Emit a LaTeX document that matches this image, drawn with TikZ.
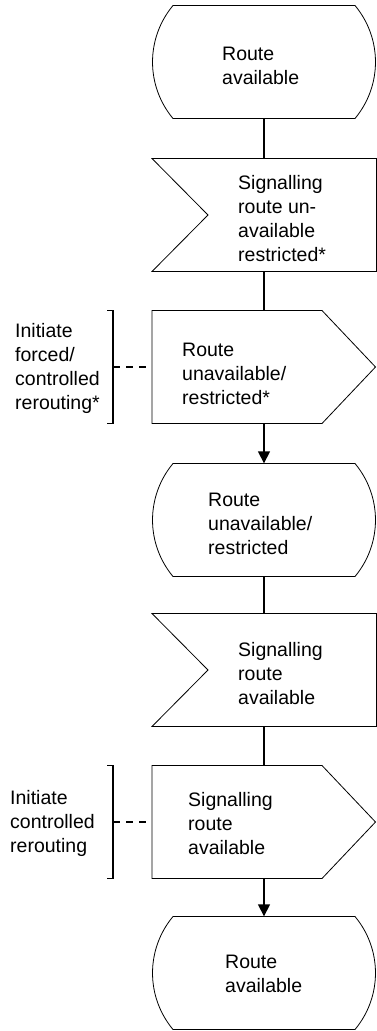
\documentclass[tikz,border=0pt]{standalone}
\usepackage{fontspec}
\setmainfont{Liberation Sans}
\usetikzlibrary{arrows.meta}
\tikzset{
  shapebox/.style={minimum width=224pt, minimum height=113pt, inner sep=0pt, draw=none},
  outline/.style={draw=black, line width=0.8pt, line join=miter},
  conn/.style={draw=black, line width=1.6pt},
  arr/.style={conn, -{Triangle[width=12pt,length=12pt]}},
  lbl/.style={anchor=north west, inner sep=0pt, align=left, font=\fontsize{19.5}{24}\selectfont},
  brk/.style={draw=black, line width=1.5pt},
  dsh/.style={draw=black, line width=1.6pt, dash pattern=on 7pt off 6pt},
}
\newcommand\drawstateshape[1]{%
  \draw[outline, shift={(#1.center)}] (-91,-56.5) -- (91,-56.5)
    .. controls (118.3,-23.7) and (118.3,23.7) .. (91,56.5) -- (-91,56.5)
    .. controls (-118.3,23.7) and (-118.3,-23.7) .. cycle;}
\newcommand\drawinshape[1]{%
  \draw[outline, shift={(#1.center)}] (-112,-56.5) -- (112.6,-56.5) -- (112.6,56.5)
    -- (-112,56.5) -- (-56,0) -- cycle;}
\newcommand\drawoutshape[1]{%
  \draw[outline, shift={(#1.center)}] (-112,-56.5) -- (58,-56.5) -- (111.5,0)
    -- (58,56.5) -- (-112,56.5) -- cycle;}
\begin{document}
\begin{tikzpicture}[x=1pt,y=-1pt]
\useasboundingbox (0,0) rectangle (376,1031);
% shape anchors
\node[shapebox] (s1) at (264,62) {};
\node[shapebox] (g1) at (264,215) {};
\node[shapebox] (k1) at (264,367) {};
\node[shapebox] (s2) at (264,520) {};
\node[shapebox] (g2) at (264,670) {};
\node[shapebox] (k2) at (264,822) {};
\node[shapebox] (s3) at (264,973) {};
% outlines
\drawstateshape{s1}
\drawinshape{g1}
\drawoutshape{k1}
\drawstateshape{s2}
\drawinshape{g2}
\drawoutshape{k2}
\drawstateshape{s3}
% texts
\node[lbl] (t1) at (222,47) {Route\\available};
\node[lbl] (t2) at (238,175) {Signalling\\route un-\\available\\restricted*};
\node[lbl] (t3) at (182,343) {Route\\unavailable/\\restricted*};
\node[lbl] (t4) at (208,493) {Route\\unavailable/\\restricted};
\node[lbl] (t5) at (238,642) {Signalling\\route\\available};
\node[lbl] (t6) at (188,792) {Signalling\\route\\available};
\node[lbl] (t7) at (225,955) {Route\\available};
\node[lbl] (l1) at (15,323) {Initiate\\forced/\\controlled\\rerouting*};
\node[lbl] (l2) at (10,790) {Initiate\\controlled\\rerouting};
% connectors
\draw[conn] (s1.south) -- (g1.north);
\draw[conn] (g1.south) -- (k1.north);
\draw[arr] (k1.south) -- (s2.north);
\draw[conn] (s2.south) -- (g2.north);
\draw[conn] (g2.south) -- (k2.north);
\draw[arr] (k2.south) -- (s3.north);
% brackets and dashed links
\coordinate (b1) at (113,367);
\coordinate (b2) at (113,822);
\draw[brk] (107,310.5) -- (113,310.5) -- (113,423.5) -- (107,423.5);
\draw[brk] (107,765.5) -- (113,765.5) -- (113,878.5) -- (107,878.5);
\draw[dsh] (b1) -- (k1.west);
\draw[dsh] (b2) -- (k2.west);
\end{tikzpicture}
\end{document}
